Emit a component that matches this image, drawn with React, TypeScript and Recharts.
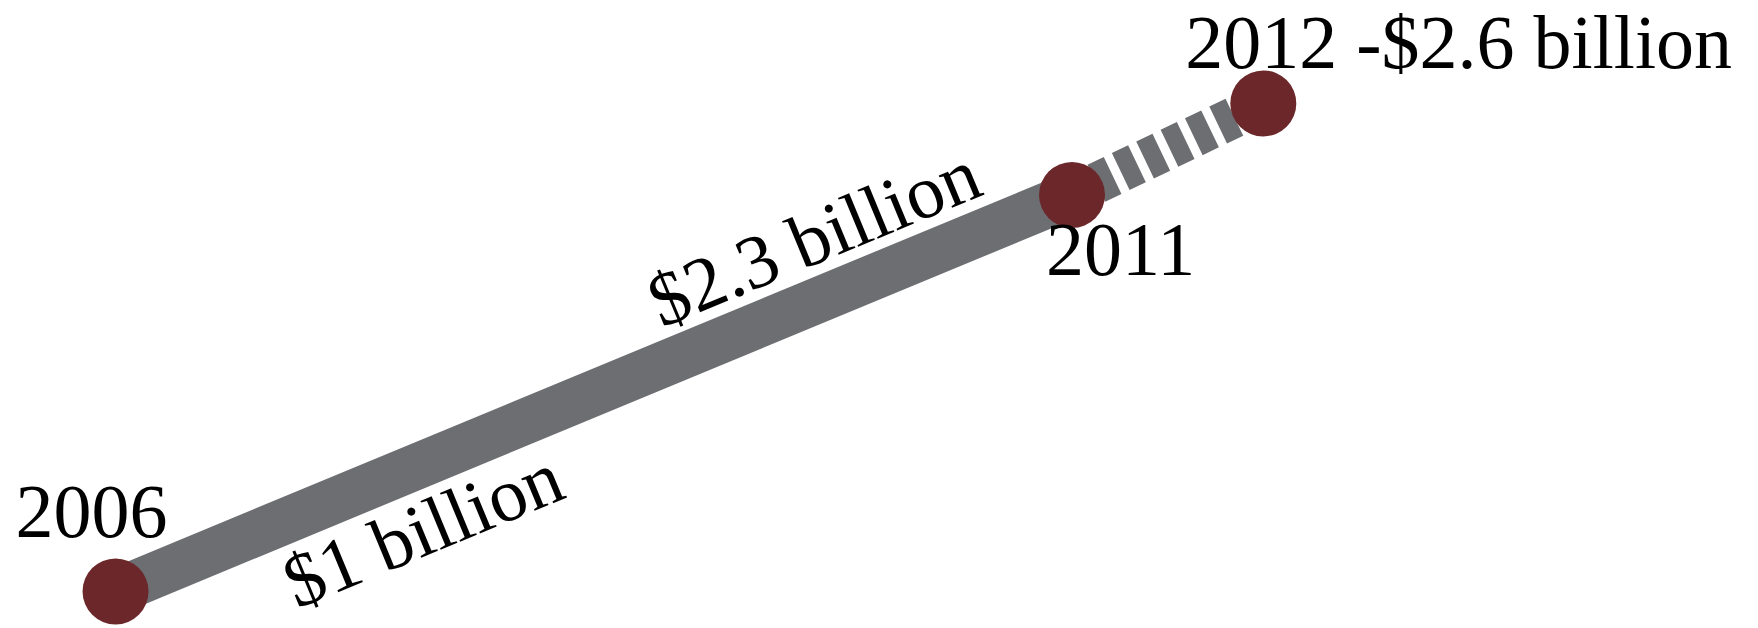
import { ComposedChart, Line, XAxis, YAxis, LabelList } from "recharts";

// revenue, $ billion
const years = [2006, 2011, 2012];
const reported = [1, 2.3, null];
const projected = [null, 2.3, 2.6];
const totals = [1, 2.3, 2.6];
const pointLabels = ["2006", "2011", "2012 -$2.6 billion"];
const segmentLabels = ["$1 billion", "$2.3 billion"];

const data = years.map((year, i) => ({
  year,
  reported: reported[i],
  projected: projected[i],
  total: totals[i],
}));

const X_DOMAIN = [2005.396, 2014.586];
const Y_DOMAIN = [0.88, 2.939];

const LINE_GREY = "#6d6e72";
const DOT_RED = "#6b272a";
const FONT = "'Liberation Serif', 'Times New Roman', serif";

// where each label sits relative to its point
const POINT_LABEL_OFFSET = [
  { dx: -100, dy: -54 },
  { dx: -26, dy: 80 },
  { dx: -78, dy: -35 },
];
// t = fraction along the 2006-2011 segment, dy = offset across it
const SEGMENT_LABEL_POS = [
  { t: 0.297, dy: 86 },
  { t: 0.754, dy: -34 },
];

let segStart: { x: number; y: number } | null = null;

const renderReportedDot = (props: any) => {
  const { cx, cy, index, points } = props;
  if (index === 0) segStart = { x: cx, y: cy };
  if (index !== 1 || cx == null) return <g key={`rd-${index}`} />;
  const a =
    points && points.length >= 2 && points[0].x != null
      ? { x: points[0].x, y: points[0].y }
      : segStart;
  if (!a) return <g key={`rd-${index}`} />;
  const b = { x: cx, y: cy };
  const angle = (Math.atan2(b.y - a.y, b.x - a.x) * 180) / Math.PI;
  return (
    <g key="segment-labels">
      {segmentLabels.map((text, i) => {
        const p = SEGMENT_LABEL_POS[i];
        const x = a.x + (b.x - a.x) * p.t;
        const y = a.y + (b.y - a.y) * p.t;
        return (
          <text
            key={text}
            transform={`translate(${x},${y}) rotate(${angle})`}
            y={p.dy}
            textAnchor="middle"
            fontFamily={FONT}
            fontSize={76}
            fill="#000"
          >
            {text}
          </text>
        );
      })}
    </g>
  );
};

const renderPointLabel = (props: any) => {
  const { x, y, index } = props;
  const off = POINT_LABEL_OFFSET[index];
  if (!off || x == null) return null;
  return (
    <text
      x={x + off.dx}
      y={y + off.dy}
      textAnchor="start"
      fontFamily={FONT}
      fontSize={76}
      fill="#000"
    >
      {pointLabels[index]}
    </text>
  );
};

export default function App() {
  return (
    <>
      <style>{"body{margin:0}"}</style>
      <ComposedChart
        width={1758}
        height={628}
        data={data}
        margin={{ top: 0, right: 0, bottom: 0, left: 0 }}
      >
        <XAxis
          type="number"
          dataKey="year"
          domain={X_DOMAIN}
          allowDataOverflow
          hide
        />
        <YAxis type="number" domain={Y_DOMAIN} allowDataOverflow hide />
        <Line
          type="linear"
          dataKey="reported"
          stroke={LINE_GREY}
          strokeWidth={46}
          dot={renderReportedDot}
          activeDot={false}
          isAnimationActive={false}
        />
        <Line
          type="linear"
          dataKey="projected"
          stroke={LINE_GREY}
          strokeWidth={41}
          strokeDasharray="18 9"
          dot={false}
          activeDot={false}
          isAnimationActive={false}
        />
        <Line
          type="linear"
          dataKey="total"
          stroke="none"
          dot={{ r: 33, fill: DOT_RED, stroke: "none" }}
          activeDot={false}
          isAnimationActive={false}
        >
          <LabelList dataKey="total" content={renderPointLabel} />
        </Line>
      </ComposedChart>
    </>
  );
}
